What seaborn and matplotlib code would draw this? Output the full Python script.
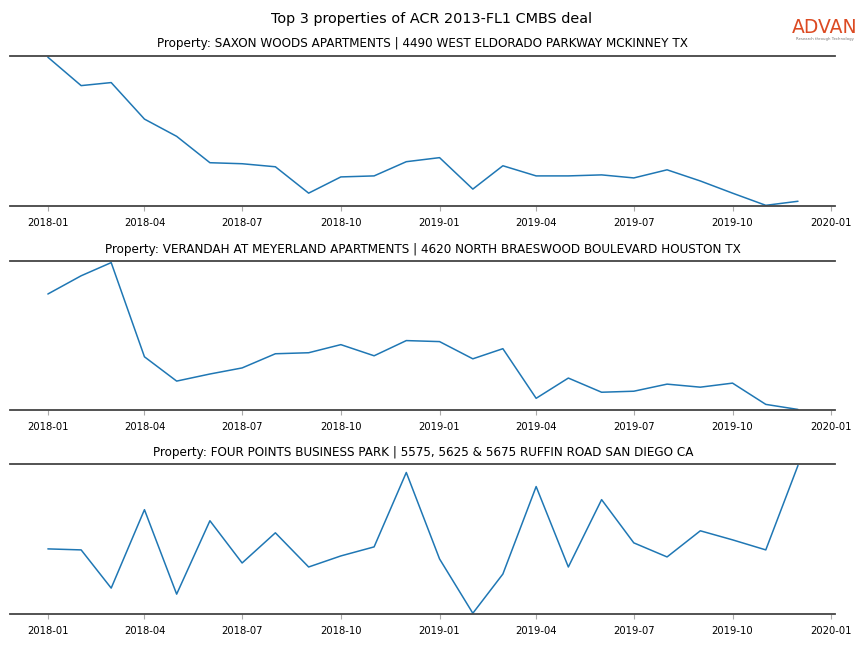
import pandas as pd
import matplotlib
matplotlib.use("Agg")
import matplotlib.pyplot as plt
import matplotlib.dates as mdates
import seaborn as sns

# Monthly series (relative values, no y scale shown)
months = pd.date_range("2018-01-01", "2019-12-01", freq="MS")

saxon = [148, 120, 123, 87, 70, 44, 43, 40, 14, 30, 31, 45,
         49, 18, 41, 31, 31, 32, 29, 37, 26, 14, 2, 6]
verandah = [116, 134, 147, 54, 30, 37, 43, 57, 58, 66, 55, 70,
            69, 52, 62, 13, 33, 19, 20, 27, 24, 28, 7, 2]
four_points = [65, 64, 26, 104, 20, 93, 51, 81, 47, 58, 67, 141,
               55, 1, 40, 127, 47, 114, 71, 57, 83, 74, 64, 148]

titles = [
    "Property: SAXON WOODS APARTMENTS | 4490 WEST ELDORADO PARKWAY MCKINNEY TX",
    "Property: VERANDAH AT MEYERLAND APARTMENTS | 4620 NORTH BRAESWOOD BOULEVARD HOUSTON TX",
    "Property: FOUR POINTS BUSINESS PARK | 5575, 5625 & 5675 RUFFIN ROAD SAN DIEGO CA",
]
series = [saxon, verandah, four_points]

sns.set_style("white")
plt.rcParams['font.family'] = ['DejaVu Sans']
plt.rcParams['text.color'] = 'black'
plt.rcParams['xtick.color'] = 'black'

fig = plt.figure(figsize=(8.64, 6.48), dpi=100)
fig.suptitle("Top 3 properties of ACR 2013-FL1 CMBS deal", fontsize=10.4, y=0.982)

# axes boxes [left, bottom, width, height] in figure fractions
boxes = [
    [0.012, 0.682, 0.955, 0.232],
    [0.012, 0.367, 0.955, 0.230],
    [0.012, 0.0525, 0.955, 0.2315],
]

for box, title, vals in zip(boxes, titles, series):
    ax = fig.add_axes(box)
    df = pd.DataFrame({"month": months, "value": vals})
    sns.lineplot(data=df, x="month", y="value", ax=ax, color="#1f77b4", linewidth=1.1)
    span = max(vals) - min(vals)
    ax.set_ylim(min(vals) - span * 0.005, max(vals) + span * 0.01)
    ax.set_title(title, fontsize=8.65, pad=6, color="black")
    ax.set_xlabel("")
    ax.set_ylabel("")
    ax.set_yticks([])
    ax.xaxis.set_major_locator(mdates.MonthLocator(bymonth=[1, 4, 7, 10]))
    ax.xaxis.set_major_formatter(mdates.DateFormatter("%Y-%m"))
    ax.tick_params(axis="x", bottom=True, labelsize=7.2, length=3.5, width=0.8,
                   color="#aaaaaa", labelcolor="black", pad=5)
    for side in ["left", "right"]:
        ax.spines[side].set_visible(False)
    for side in ["top", "bottom"]:
        ax.spines[side].set_color("#444444")
        ax.spines[side].set_linewidth(1.3)

# logo
fig.text(0.9545, 0.958, "ADVAN", color="#dc4a22", fontsize=13.5, ha="center", va="center")
fig.text(0.9545, 0.94, "Research through Technology", color="#777777", fontsize=2.8,
         ha="center", va="center")

fig.savefig("out.png", dpi=100)
